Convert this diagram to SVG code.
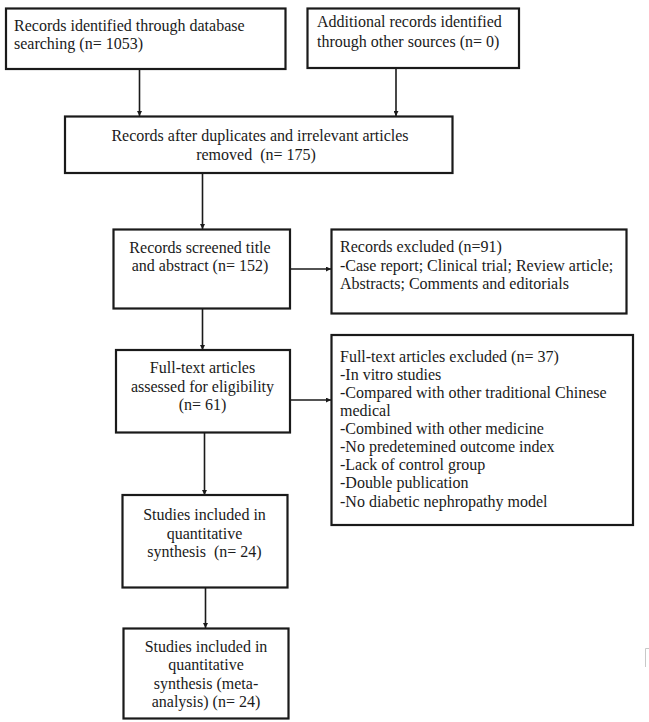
<svg xmlns="http://www.w3.org/2000/svg" width="649" height="722" viewBox="0 0 649 722">
<style>
.box{fill:#fff;stroke:#1a1a1a;stroke-width:2.2}
.t{font-family:"Liberation Serif","Times New Roman",serif;font-size:16px;fill:#1a1a1a;white-space:pre}
.c{text-anchor:middle}
.edge{stroke:#1a1a1a;stroke-width:1.6;fill:none;marker-end:url(#ah)}
</style>
<defs>
<marker id="ah" viewBox="0 0 8 8" refX="8" refY="4" markerWidth="5" markerHeight="5" markerUnits="userSpaceOnUse" orient="auto">
<path d="M0,0 L8,4 L0,8 z" fill="#1a1a1a"/>
</marker>
</defs>
<rect width="649" height="722" fill="#fff"/>
<g id="connectors">
<line class="edge" x1="139.5" y1="69" x2="139.5" y2="116"/>
<line class="edge" x1="396" y1="68" x2="396" y2="116"/>
<line class="edge" x1="202.5" y1="173" x2="202.5" y2="229"/>
<line class="edge" x1="290" y1="269" x2="331" y2="269"/>
<line class="edge" x1="202.5" y1="308.5" x2="202.5" y2="350"/>
<line class="edge" x1="290" y1="400" x2="331" y2="400"/>
<line class="edge" x1="204.5" y1="432.5" x2="204.5" y2="495"/>
<line class="edge" x1="205.5" y1="587.5" x2="205.5" y2="628"/>
</g>
<g id="n1">
<rect class="box" x="6" y="8.5" width="279.5" height="60.5"/>
<text class="t" x="14" y="31">Records identified through database</text>
<text class="t" x="14" y="49">searching (n= 1053)</text>
</g>
<g id="n2">
<rect class="box" x="307.5" y="8.5" width="211.5" height="59.5"/>
<text class="t" x="317" y="27">Additional records identified</text>
<text class="t" x="317" y="46.5">through other sources (n= 0)</text>
</g>
<g id="n3">
<rect class="box" x="65" y="116.5" width="387.5" height="56.5"/>
<text class="t c" x="260" y="141">Records after duplicates and irrelevant articles</text>
<text class="t c" x="256" y="160">removed  (n= 175)</text>
</g>
<g id="n4">
<rect class="box" x="113.5" y="229.5" width="176.5" height="79"/>
<text class="t c" x="200" y="253">Records screened title</text>
<text class="t c" x="200" y="271">and abstract (n= 152)</text>
</g>
<g id="n5">
<rect class="box" x="331.5" y="229.5" width="295" height="84"/>
<text class="t" x="340" y="251.5">Records excluded (n=91)</text>
<text class="t" x="340" y="270.5">-Case report; Clinical trial; Review article;</text>
<text class="t" x="340" y="288.5">Abstracts; Comments and editorials</text>
</g>
<g id="n6">
<rect class="box" x="331.5" y="335" width="301.5" height="190"/>
<text class="t" x="340" y="361.5">Full-text articles excluded (n= 37)</text>
<text class="t" x="340" y="379.5">-In vitro studies</text>
<text class="t" x="340" y="397.5">-Compared with other traditional Chinese</text>
<text class="t" x="340" y="415.5">medical</text>
<text class="t" x="340" y="433.5">-Combined with other medicine</text>
<text class="t" x="340" y="452">-No predetemined outcome index</text>
<text class="t" x="340" y="470">-Lack of control group</text>
<text class="t" x="340" y="488">-Double publication</text>
<text class="t" x="340" y="506.5">-No diabetic nephropathy model</text>
</g>
<g id="n7">
<rect class="box" x="116" y="350" width="174" height="82.5"/>
<text class="t c" x="202.5" y="373">Full-text articles</text>
<text class="t c" x="202.5" y="392">assessed for eligibility</text>
<text class="t c" x="202.5" y="410">(n= 61)</text>
</g>
<g id="n8">
<rect class="box" x="122.5" y="495" width="165" height="92.5"/>
<text class="t c" x="204.5" y="520">Studies included in</text>
<text class="t c" x="204.5" y="538.5">quantitative</text>
<text class="t c" x="204.5" y="557">synthesis  (n= 24)</text>
</g>
<g id="n9">
<rect class="box" x="123.5" y="628.5" width="165" height="90"/>
<text class="t c" x="206" y="652">Studies included in</text>
<text class="t c" x="206" y="670">quantitative</text>
<text class="t c" x="206" y="688.5">synthesis (meta-</text>
<text class="t c" x="206" y="707">analysis) (n= 24)</text>
</g>
<path d="M649,648.5 L645.5,648.5 L645.5,667" fill="none" stroke="#c8c8c8" stroke-width="1"/>
</svg>
